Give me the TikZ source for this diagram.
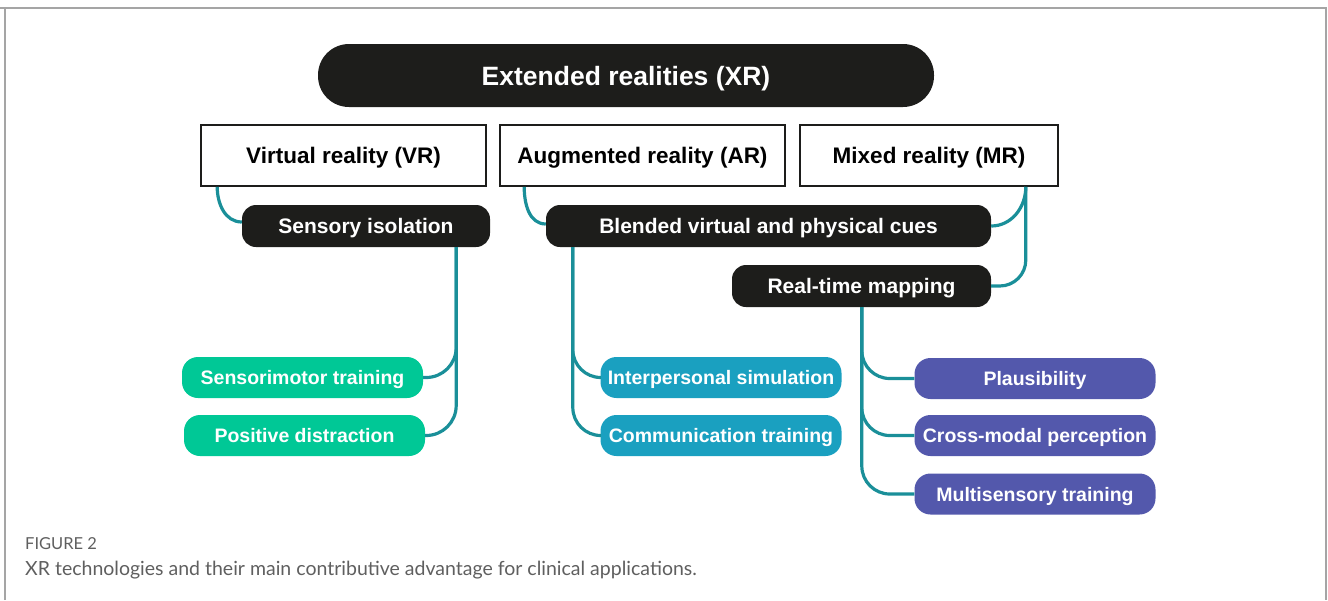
\documentclass[tikz,border=0pt]{standalone}
\usepackage{fontspec}
\setsansfont{Liberation Sans}
\newfontfamily\captionfont{Lato}
\usepackage{xcolor}
\usetikzlibrary{positioning}

\definecolor{pillblack}{RGB}{29,29,27}
\definecolor{linkteal}{RGB}{26,143,153}
\definecolor{leafgreen}{RGB}{0,200,150}
\definecolor{leafblue}{RGB}{26,160,192}
\definecolor{leafpurple}{RGB}{83,88,172}
\definecolor{framegray}{RGB}{165,165,165}
\definecolor{captiongray}{RGB}{95,95,95}

\tikzset{
  titlepill/.style={rectangle,rounded corners=31pt,fill=pillblack,text=white,
    minimum width=616pt,minimum height=63pt,inner sep=0pt,
    text height=19pt,text depth=0pt,
    font=\sffamily\bfseries\fontsize{26.5}{30}\selectfont},
  techbox/.style={rectangle,draw=pillblack,line width=1.6pt,fill=white,
    minimum height=61pt,inner sep=0pt,text height=16pt,text depth=0pt,
    font=\sffamily\bfseries\fontsize{22.5}{26}\selectfont},
  cuepill/.style={rectangle,rounded corners=14pt,fill=pillblack,text=white,
    minimum height=42pt,inner sep=0pt,text height=15pt,text depth=0pt,
    font=\sffamily\bfseries\fontsize{21}{24}\selectfont},
  leaf/.style={rectangle,rounded corners=16pt,text=white,
    minimum width=241pt,minimum height=41pt,inner sep=0pt,
    text height=14pt,text depth=0pt,
    font=\sffamily\bfseries\fontsize{19.5}{22}\selectfont},
  link/.style={draw=linkteal,line width=3.2pt},
}

\begin{document}
\begin{tikzpicture}[x=1pt,y=-1pt]
        \useasboundingbox (0,0) rectangle (1328,600);
        % frame of the figure panel
        \draw[framegray,line width=2pt] (5,600) -- (5,8) -- (1326,8) -- (1326,600);
        \draw[framegray,line width=2pt] (0,8) -- (5,8);

        \node at (626,75.5) [titlepill] (xr) {Extended realities (XR)};

        \node at (343.5,155.5) [techbox,minimum width=285pt] (vr) {Virtual reality (VR)};
        \node at (642.5,155.5) [techbox,minimum width=285pt] (ar) {Augmented reality (AR)};
        \node at (929,155.5) [techbox,minimum width=258pt] (mr) {Mixed reality (MR)};

        \node at (366,226) [cuepill,minimum width=248pt] (isol) {Sensory isolation};
        \node at (768.5,226) [cuepill,minimum width=445pt] (blend) {Blended virtual and physical cues};
        \node at (861.5,286) [cuepill,minimum width=259pt] (rtmap) {Real-time mapping};

        \node at (302.5,377.5) [leaf,fill=leafgreen] (sensmot) {Sensorimotor training};
        \node at (304.5,435.5) [leaf,fill=leafgreen] (posdis) {Positive distraction};
        \node at (721,377.5) [leaf,fill=leafblue] (interp) {Interpersonal simulation};
        \node at (721,435.5) [leaf,fill=leafblue] (comm) {Communication training};
        \node at (1035,378.5) [leaf,fill=leafpurple] (plaus) {Plausibility};
        \node at (1035,435.5) [leaf,fill=leafpurple] (cross) {Cross-modal perception};
        \node at (1035,494) [leaf,fill=leafpurple] (multi) {Multisensory training};

        % connectors
        \draw[link] ([xshift=17pt]vr.south west) to[out=-90,in=180] ([yshift=4pt]isol.west);
        \draw[link] ([xshift=25pt]ar.south west) to[out=-90,in=180] ([yshift=2pt]blend.west);
        \draw[link] ([xshift=-33pt]mr.south east) to[out=-90,in=0] (blend.east);
        \draw[link,rounded corners=26pt] ([xshift=-33pt]mr.south east) |- (rtmap.east);

        \draw[link,rounded corners=30pt] ([xshift=-34pt]isol.south east) |- (sensmot.east);
        \draw[link,rounded corners=30pt] ([xshift=-34pt]isol.south east) |- (posdis.east);

        \draw[link,rounded corners=28pt] ([xshift=27pt]blend.south west) |- (interp.west);
        \draw[link,rounded corners=28pt] ([xshift=27pt]blend.south west) |- (comm.west);

        \draw[link,rounded corners=28pt] ([xshift=130pt]rtmap.south west) |- (plaus.west);
        \draw[link,rounded corners=28pt] ([xshift=130pt]rtmap.south west) |- (cross.west);
        \draw[link,rounded corners=28pt] ([xshift=130pt]rtmap.south west) |- (multi.west);

        % caption
        \node at (25,549) [anchor=base west,inner sep=0pt,text=captiongray,
          font=\captionfont\fontsize{16.5}{18}\selectfont] (fignum) {FIGURE 2};
        \node at (25,575) [anchor=base west,inner sep=0pt,text=captiongray,
          font=\captionfont\fontsize{19.5}{22}\selectfont] (figcap)
          {XR technologies and their main contributive advantage for clinical applications.};
\end{tikzpicture}
\end{document}
